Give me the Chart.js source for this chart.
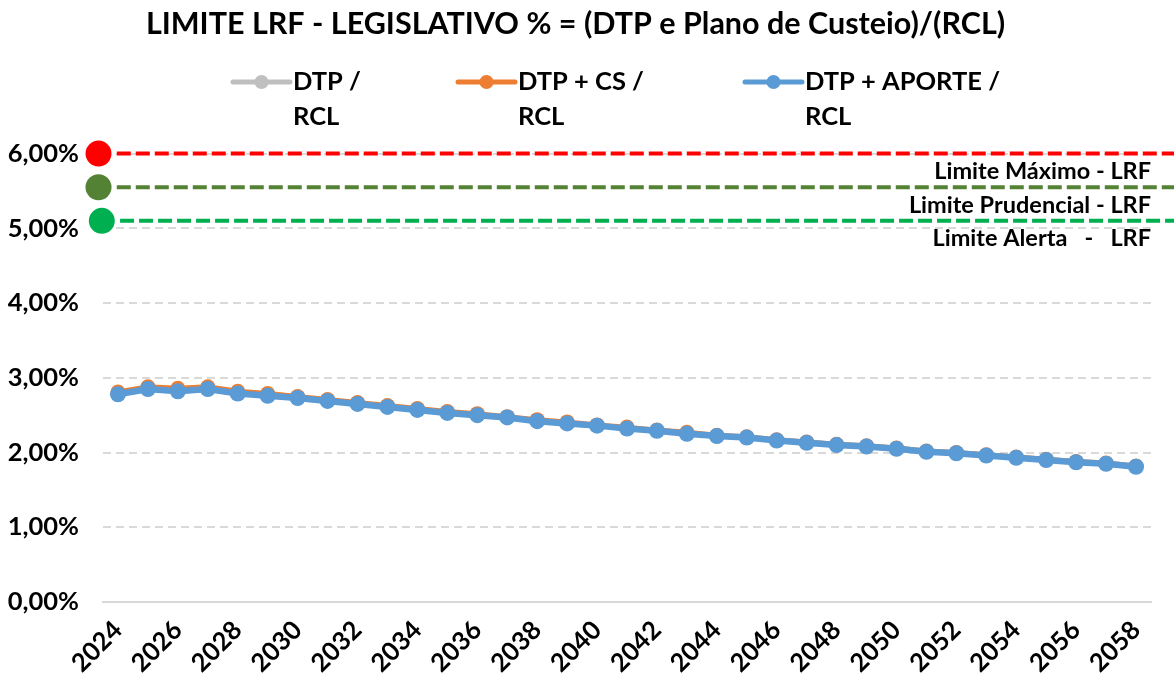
<!DOCTYPE html>
<html>
<head>
<meta charset="utf-8">
<script src="https://cdn.jsdelivr.net/npm/chart.js@4.4.1/dist/chart.umd.min.js"></script>
<style>
  html, body { margin: 0; padding: 0; background: #ffffff; }
  #wrap { width: 1174px; height: 675px; }
</style>
</head>
<body>
<div id="wrap"><canvas id="c" width="1174" height="675"></canvas></div>
<script>
// ---------- DATA ----------
const years = [2024,2025,2026,2027,2028,2029,2030,2031,2032,2033,2034,2035,2036,2037,2038,2039,2040,2041,2042,2043,2044,2045,2046,2047,2048,2049,2050,2051,2052,2053,2054,2055,2056,2057,2058];
const tickYears = [2024,2026,2028,2030,2032,2034,2036,2038,2040,2042,2044,2046,2048,2050,2052,2054,2056,2058];
const yTicks = [0,1,2,3,4,5,6];

const dtpRcl = [2.78,2.85,2.82,2.85,2.79,2.76,2.73,2.69,2.65,2.61,2.57,2.53,2.50,2.47,2.42,2.39,2.36,2.32,2.29,2.25,2.22,2.20,2.16,2.13,2.10,2.08,2.05,2.01,1.99,1.96,1.93,1.90,1.87,1.85,1.81];
const dtpCsRcl = [2.81,2.88,2.86,2.88,2.82,2.79,2.75,2.71,2.67,2.63,2.59,2.55,2.52,2.48,2.44,2.41,2.37,2.34,2.30,2.27,2.23,2.21,2.17,2.14,2.11,2.09,2.06,2.02,2.00,1.97,1.94,1.91,1.88,1.86,1.82];
const dtpAporteRcl = [2.78,2.85,2.82,2.85,2.79,2.76,2.73,2.69,2.65,2.61,2.57,2.53,2.50,2.47,2.42,2.39,2.36,2.32,2.29,2.25,2.22,2.20,2.16,2.13,2.10,2.08,2.05,2.01,1.99,1.96,1.93,1.90,1.87,1.85,1.81];

const seriesNames = [["DTP /","RCL"],["DTP + CS /","RCL"],["DTP + APORTE /","RCL"]];

const limitNames = ["Limite Máximo - LRF","Limite Prudencial - LRF","Limite Alerta   -   LRF"];
const limitValues = [6.00, 5.55, 5.10];
const limitDotYear = [2023.35, 2023.35, 2023.46];
const limitLineStart = [2023.96, 2023.96, 2024.07];
const limitLineEnd = [2059.6, 2059.6, 2059.6];

const titleText = "LIMITE LRF - LEGISLATIVO % = (DTP e Plano de Custeio)/(RCL)";

// ---------- STYLE ----------
const FONT = "Lato, 'Open Sans', 'DejaVu Sans', sans-serif";
const seriesColors = ["#BFBFBF", "#ED7D31", "#5B9BD5"];
const limitColors = ["#FF0000", "#548235", "#00B050"];

function pts(vals) { return years.map((y, i) => ({ x: y, y: vals[i] })); }

const datasets = [
  { label: "DTP / RCL", data: pts(dtpRcl), borderColor: seriesColors[0], backgroundColor: seriesColors[0],
    borderWidth: 5, pointRadius: 7.5, pointBorderWidth: 0, order: 2 },
  { label: "DTP + CS / RCL", data: pts(dtpCsRcl), borderColor: seriesColors[1], backgroundColor: seriesColors[1],
    borderWidth: 5, pointRadius: 7.5, pointBorderWidth: 0, order: 1 },
  { label: "DTP + APORTE / RCL", data: pts(dtpAporteRcl), borderColor: seriesColors[2], backgroundColor: seriesColors[2],
    borderWidth: 6.5, pointRadius: 8, pointBorderWidth: 0, order: 0 }
];
limitValues.forEach((v, i) => {
  datasets.push({
    label: limitNames[i],
    data: [ { x: limitDotYear[i], y: v }, { x: limitLineStart[i] - 0.02, y: null },
            { x: limitLineStart[i], y: v }, { x: limitLineEnd[i], y: v } ],
    borderColor: limitColors[i], backgroundColor: limitColors[i],
    borderWidth: 4, borderDash: [14, 5], pointRadius: [13, 0, 0, 0], pointBorderWidth: 0,
    spanGaps: false, clip: false, order: 3 + i
  });
});

// Custom legend + limit labels plugin
const overlayPlugin = {
  id: 'overlay',
  afterDraw(chart) {
    const ctx = chart.ctx;
    const ys = chart.scales.y;
    const area = chart.chartArea;
    ctx.save();
    // limit labels
    ctx.font = "bold 23.5px " + FONT;
    ctx.fillStyle = "#000";
    ctx.textAlign = "right";
    ctx.textBaseline = "middle";
    limitValues.forEach((v, i) => {
      ctx.fillText(limitNames[i], area.right, ys.getPixelForValue(v) + 18);
    });
    // legend
    const legendX = [233, 458, 745];
    const lineLen = 57, rowY = 82, rowGap = 35;
    ctx.font = "bold 25.5px " + FONT;
    ctx.textAlign = "left";
    for (let i = 0; i < 3; i++) {
      const ds = chart.data.datasets[i];
      ctx.strokeStyle = ds.borderColor;
      ctx.lineWidth = 5;
      ctx.lineCap = "round";
      ctx.beginPath();
      ctx.moveTo(legendX[i], rowY);
      ctx.lineTo(legendX[i] + lineLen, rowY);
      ctx.stroke();
      ctx.fillStyle = ds.backgroundColor;
      ctx.beginPath();
      ctx.arc(legendX[i] + lineLen / 2, rowY, 7, 0, Math.PI * 2);
      ctx.fill();
      ctx.fillStyle = "#000";
      seriesNames[i].forEach((t, k) => ctx.fillText(t, legendX[i] + lineLen + 3, rowY + k * rowGap));
    }
    ctx.restore();
  }
};

new Chart(document.getElementById('c'), {
  type: 'line',
  data: { datasets },
  options: {
    responsive: false,
    animation: false,
    events: [],
    layout: { padding: { left: 0, right: 23, top: 0, bottom: 0 } },
    plugins: {
      legend: { display: false },
      tooltip: { enabled: false },
      title: {
        display: true, text: titleText, color: "#000",
        font: { family: FONT, size: 30.5, weight: "bold" },
        padding: { top: 6, bottom: 111 }
      }
    },
    scales: {
      x: {
        type: 'linear', min: 2023.5, max: 2058.5,
        grid: { display: false, drawTicks: false },
        border: { display: true, color: "#D9D9D9", width: 2 },
        afterBuildTicks: (s) => { s.ticks = tickYears.map(v => ({ value: v })); },
        afterFit: (s) => { s.height = 73; },
        ticks: {
          autoSkip: false, minRotation: 45, maxRotation: 45, padding: 13, color: "#000",
          font: { family: FONT, size: 25.5, weight: "bold" },
          callback: (v) => String(v)
        }
      },
      y: {
        min: 0, max: 6,
        afterBuildTicks: (s) => { s.ticks = yTicks.map(v => ({ value: v })); },
        afterFit: (s) => { s.width = 103; },
        grid: { color: "#D9D9D9", lineWidth: 2, drawTicks: false },
        border: { display: false, dash: [8, 5] },
        ticks: {
          padding: 24, color: "#000",
          font: { family: FONT, size: 25.5, weight: "bold" },
          callback: (v) => v.toFixed(2).replace('.', ',') + '%'
        }
      }
    }
  },
  plugins: [overlayPlugin]
});
</script>
</body>
</html>
